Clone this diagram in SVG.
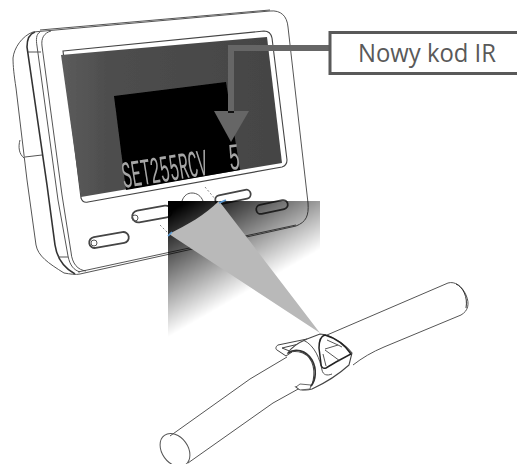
<svg xmlns="http://www.w3.org/2000/svg" width="517" height="464" viewBox="0 0 517 464">
<style>
.l{fill:none;stroke:#555;stroke-width:1}
.d{fill:none;stroke:#333;stroke-width:1.6}
.b{fill:#fff;stroke:#444;stroke-width:1.8}
.h{fill:none;stroke:#444;stroke-width:.9}
.lcd{font-family:"Liberation Mono",monospace;font-size:38px;fill:#a6a6a6}
.dash{fill:none;stroke:#666;stroke-width:.8;stroke-dasharray:2 2}
.blue{fill:none;stroke:#5b9bd5;stroke-width:1.6}
</style>
<defs>
<linearGradient id="fade" gradientUnits="userSpaceOnUse" x1="190" y1="200" x2="244" y2="293.500">
<stop offset="0" stop-color="#000" stop-opacity="1"/>
<stop offset="1" stop-color="#000" stop-opacity="0"/>
</linearGradient>
<linearGradient id="scr" gradientUnits="userSpaceOnUse" x1="62" y1="100" x2="282" y2="100">
<stop offset="0" stop-color="#5c5c5c"/>
<stop offset=".2" stop-color="#4e4e4e"/>
<stop offset="1" stop-color="#444"/>
</linearGradient>
<filter id="soft" x="-5%" y="-5%" width="110%" height="110%"><feGaussianBlur stdDeviation="0.5"/></filter>
</defs>

<g id="device" filter="url(#soft)">
<path class="l" d="M33 32C22 36 14 48 13 58C13 66 14 75 16 88L27 180L36 245C38 256 48 263 64 273"/>
<path class="l" d="M20 140C18 147 19 154 24 158M25 157L42 155M28 52L41 52"/>
<path class="d" d="M35 32C29 34 27 40 27 47L47 185L55 245C57 258 64 268 75 274"/>
<path class="l" d="M40 32C36 34 36 40 37 46L58 200L68 256C70 266 74 270 80 272"/>
<path class="l" d="M51 31C44 33 41 38 42 46L62 195L71 252C72 264 78 270 86 271"/>
<path class="l" d="M58 257L68 257"/>
<path class="l" d="M33 32L270 11C281 10 287 16 288 27L308 203C309 216 306 222 296 226L80 274C76 275 70 274 64 273"/>
<path class="l" d="M40 30L270 10"/>
<path class="h" d="M78 272L296 225"/>
<path class="b" d="M63 51L264 31C269 31 271 33 272 38L287 160C287 164 285 166 282 167L88 202C84 203 82 201 81 198Z" style="stroke-width:1.1"/>
<path d="M61 55L267 37L282 163L81 197Z" fill="url(#scr)"/>
<path d="M114 96L226 82L240 170L126 190Z" fill="#000"/>
<g class="lcd">
<text transform="translate(124 188) rotate(-9)" textLength="86" lengthAdjust="spacingAndGlyphs">SET255RCV</text>
<text transform="translate(230 170) rotate(-6)" textLength="11" lengthAdjust="spacingAndGlyphs">5</text>
</g>
<path class="l" d="M182 201C184 195 188 193 192 193C197 193 201 196 203 201"/>
<g id="buttons">
<rect class="b" x="-20" y="-5.500" width="40" height="11" rx="5.500" transform="translate(109 240) rotate(-10)"/>
<circle class="l" cx="94" cy="243" r="3"/>
<rect class="b" x="-20" y="-6" width="40" height="12" rx="6" transform="translate(152 214) rotate(-10)"/>
<circle class="l" cx="135" cy="218" r="3"/>
<rect class="b" x="-18" y="-4.500" width="36" height="9" rx="4.500" transform="translate(233 197) rotate(-12)"/>
<rect class="b" x="-16" y="-4.500" width="32" height="9" rx="4.500" transform="translate(272 207) rotate(-12)"/>
</g>
</g>

<g id="ir-beam">
<rect x="168" y="201" width="152" height="137" fill="url(#fade)" filter="url(#soft)"/>
<path d="M320 333L219 201C205 215 187 225 169 234Z" fill="#b9b9b9"/>
<path class="blue" d="M168 236L172 232M219 203L226 200"/>
<path class="dash" d="M205 187L216 200M160 225L168 233"/>
</g>

<g id="handlebar" filter="url(#soft)">
<path class="l" d="M448 283L327 335"/>
<path class="l" d="M448 283C455 281 462 286 466 295C470 304 468 311 461 315"/>
<path class="d" d="M456 284C463 287 468 297 466 308" style="stroke-width:1"/>
<path class="l" d="M461 315L384 347C372 352 362 358 353 365"/>
<path class="l" d="M287 357L250 379L170 436"/>
<path class="l" d="M300 388L273 403L188 463"/>
<ellipse class="l" cx="175" cy="450" rx="13" ry="18" transform="rotate(-36 175 450)"/>
</g>

<g id="remote" filter="url(#soft)">
<path class="b" d="M307 339L278 345C276 346 275 349 277 350L286 356L292 352L282 348L303 343Z" style="stroke-width:1"/>
<path class="b" d="M288 353C292 346 300 342 307 339L320 334C330 334 345 344 352 353L349 365C338 375 325 383 312 389C306 391 299 390 296 387C302 388 310 388 312 385C316 372 314 358 303 353C297 351 292 351 288 353Z" style="stroke-width:1.1"/>
<path class="b" d="M296 387L300 384L311 385L310 389L300 390Z" style="stroke-width:.8"/>
<path class="d" d="M288 353C295 348 306 350 312 360C317 369 316 380 311 386"/>
<path class="l" d="M303 340C315 345 320 360 322 370C323 375 327 376 332 374"/>
<path class="b" d="M325 335C335 338 345 345 351 354L336 362L326 368C323 369 321 367 321 364L319 348C319 341 321 336 325 335Z" style="stroke:#222;stroke-width:1.5"/>
<path class="h" d="M325 349L338 345M325 350L340 361M338 345L342 347M338 345L327 340"/>
<path class="h" d="M323 354L326 366"/>
</g>

<g id="connectors">
<path d="M330 48H231V112" fill="none" stroke="#666" stroke-width="6"/>
<path d="M214 111H249L231 142Z" fill="#666"/>
<rect x="228" y="111" width="6" height="2" fill="#111"/>
</g>

<g id="callout">
<rect x="330" y="32.500" width="200" height="41" fill="#fff" stroke="#595959" stroke-width="3"/>
<text x="358" y="62" font-family="'Open Sans','Noto Sans',sans-serif" font-size="25" textLength="138" lengthAdjust="spacingAndGlyphs" fill="#595959">Nowy kod IR</text>
</g>
</svg>
